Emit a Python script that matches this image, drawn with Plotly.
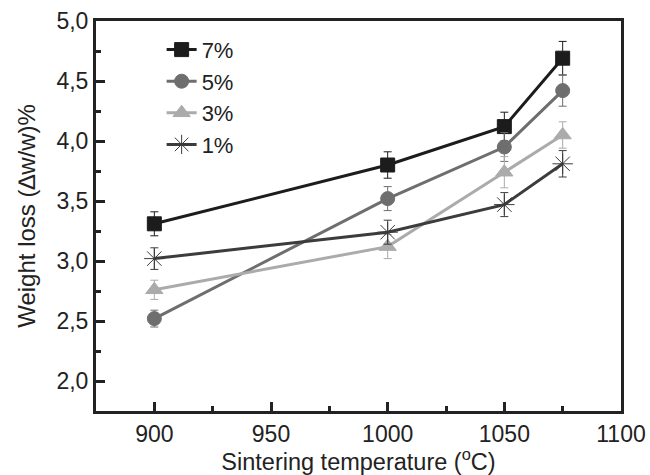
import plotly.graph_objects as go

temps = [900, 1000, 1050, 1075]
series_names = ["7%", "5%", "3%", "1%"]
w7 = [3.31, 3.80, 4.12, 4.69]
e7 = [0.10, 0.11, 0.12, 0.14]
w5 = [2.52, 3.52, 3.95, 4.42]
e5 = [0.07, 0.10, 0.12, 0.13]
w3 = [2.76, 3.12, 3.74, 4.05]
e3 = [0.08, 0.10, 0.13, 0.11]
w1 = [3.02, 3.24, 3.47, 3.81]
e1 = [0.09, 0.10, 0.10, 0.11]

values = [w7, w5, w3, w1]
errors = [e7, e5, e3, e1]
colors = ["#1c1c1c", "#6e6e6e", "#ababab", "#3c3c3c"]
symbols = ["square", "circle", "triangle-up", "asterisk-open"]
sizes = [14, 14, 15, 17]

fig = go.Figure()
for name, v, e, c, s, sz in zip(series_names, values, errors, colors, symbols, sizes):
    fig.add_trace(go.Scatter(
        x=temps, y=v, name=name, mode="lines+markers",
        line=dict(color=c, width=3),
        marker=dict(symbol=s, size=sz, color=c, line=dict(color=c, width=1)),
        error_y=dict(type="data", array=e, visible=True, color=c, thickness=1, width=4),
    ))

font_fam = "Liberation Sans, Arial, sans-serif"
axcol = "#222222"
fig.update_layout(
    width=650, height=475,
    margin=dict(l=96, r=29, t=21, b=64, autoexpand=False),
    paper_bgcolor="white", plot_bgcolor="white",
    font=dict(family=font_fam, color="#222222", size=23),
    showlegend=True,
    legend=dict(x=0.125, y=0.98, xanchor="left", yanchor="top",
                bgcolor="rgba(0,0,0,0)", font=dict(size=22),
                tracegroupgap=0),
    xaxis=dict(range=[875, 1100], tickvals=[900, 950, 1000, 1050, 1100],
               ticks="inside", ticklen=9, tickwidth=3, tickcolor=axcol,
               showline=True, linewidth=3, linecolor=axcol, mirror=True,
               showgrid=False, zeroline=False, tickfont=dict(size=23),
               automargin=False,
               minor=dict(tickvals=[925, 975, 1025, 1075], ticks="inside", ticklen=5, tickwidth=3, tickcolor=axcol),
               title=dict(text="Sintering temperature (<sup>o</sup>C)", font=dict(size=23.5))),
    yaxis=dict(range=[1.75, 5.0], tickvals=[2.0, 2.5, 3.0, 3.5, 4.0, 4.5, 5.0],
               ticktext=["2,0", "2,5", "3,0", "3,5", "4,0", "4,5", "5,0"],
               ticks="inside", ticklen=9, tickwidth=3, tickcolor=axcol,
               showline=True, linewidth=3, linecolor=axcol, mirror=True,
               showgrid=False, zeroline=False, tickfont=dict(size=23),
               automargin=False,
               minor=dict(tickvals=[2.25, 2.75, 3.25, 3.75, 4.25, 4.75], ticks="inside", ticklen=5, tickwidth=3, tickcolor=axcol),
               title=dict(text="Weight loss (∆w/w)%", font=dict(size=24))),
)

fig.write_html("out.html", config={"displayModeBar": False},
               post_script="document.body.style.margin='0px';document.body.style.padding='0px';")
